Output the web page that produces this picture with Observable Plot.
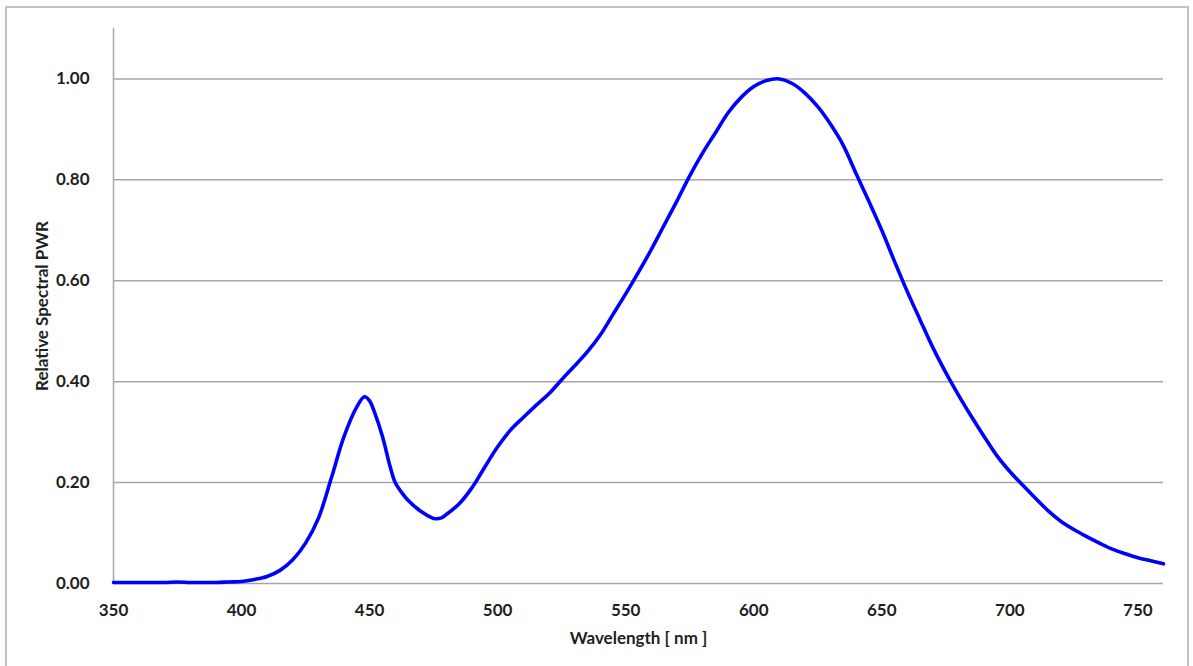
<!DOCTYPE html>
<html><head><meta charset="utf-8">
<script src="https://cdn.jsdelivr.net/npm/d3@7"></script>
<script src="https://cdn.jsdelivr.net/npm/@observablehq/plot@0.6"></script>
<style>
html,body{margin:0;padding:0;background:#fff;}
#wrap{position:relative;width:1193px;height:666px;overflow:hidden;}
#frame{position:absolute;left:5px;top:6px;width:1184px;height:720px;border:2px solid #c3c3c3;box-sizing:border-box;}
#chart{position:absolute;left:0;top:0;}
</style></head>
<body><div id="wrap"><div id="frame"></div><div id="chart"></div></div>
<script>
const wavelength = [350,355,360,365,370,375,380,385,390,395,400,405,410,415,420,425,430,435,440,445,448,450,452,455,458,460,463,465,470,475,478,480,485,490,495,500,505,510,515,520,525,530,535,540,545,550,555,560,565,570,575,580,585,590,595,600,605,610,615,620,625,630,635,640,645,650,655,660,665,670,675,680,685,690,695,700,705,710,715,720,725,730,735,740,745,750,755,760];
const power = [0.002,0.002,0.002,0.002,0.002,0.003,0.002,0.002,0.002,0.003,0.004,0.008,0.014,0.026,0.047,0.080,0.129,0.208,0.291,0.350,0.370,0.362,0.338,0.292,0.232,0.200,0.177,0.165,0.143,0.129,0.130,0.137,0.158,0.190,0.231,0.271,0.304,0.329,0.353,0.376,0.404,0.431,0.459,0.492,0.533,0.574,0.617,0.662,0.710,0.758,0.808,0.853,0.893,0.933,0.963,0.985,0.997,1.000,0.991,0.972,0.945,0.910,0.868,0.812,0.757,0.700,0.638,0.578,0.522,0.467,0.418,0.373,0.331,0.291,0.253,0.222,0.195,0.169,0.144,0.123,0.107,0.093,0.080,0.068,0.059,0.051,0.045,0.039];
const xTicks = [350,400,450,500,550,600,650,700,750];
const yTicks = [0,0.2,0.4,0.6,0.8,1.0];
const gridValues = [0.2,0.4,0.6,0.8,1.0];
const xTitle = "Wavelength [ nm ]";
const yTitle = "Relative Spectral PWR";

const data = wavelength.map((w, i) => ({w, p: power[i]}));

const chart = Plot.plot({
  width: 1193, height: 666,
  marginLeft: 113, marginRight: 30, marginTop: 28, marginBottom: 83,
  style: {fontFamily: "Lato, 'Open Sans', sans-serif", fontWeight: "bold", fontSize: "17px", color: "#1f1f1f", background: "transparent", overflow: "visible"},
  x: {domain: [350, 760], ticks: xTicks, tickSize: 0, tickPadding: 20, label: null},
  y: {domain: [0, 1.1], ticks: yTicks, tickSize: 0, tickPadding: 24, tickFormat: d3.format(".2f"), label: null},
  marks: [
    Plot.ruleY(gridValues, {stroke: "#a6a6a6", strokeWidth: 1.5}),
    Plot.ruleY([0], {stroke: "#a6a6a6", strokeWidth: 1.5}),
    Plot.ruleX([350], {stroke: "#a6a6a6", strokeWidth: 1.5}),
    Plot.line(data, {x: "w", y: "p", stroke: "#0000ff", strokeWidth: 3.6, curve: "catmull-rom"}),
    Plot.text([xTitle], {frameAnchor: "bottom", dy: 60, text: d => d, fontSize: 17, fontWeight: "bold", fill: "#1f1f1f"}),
    Plot.text([yTitle], {frameAnchor: "left", textAnchor: "middle", dx: -71, dy: 0, rotate: -90, text: d => d, fontSize: 17, fontWeight: "bold", fill: "#1f1f1f"})
  ]
});
document.getElementById("chart").appendChild(chart);
</script>
</body></html>
